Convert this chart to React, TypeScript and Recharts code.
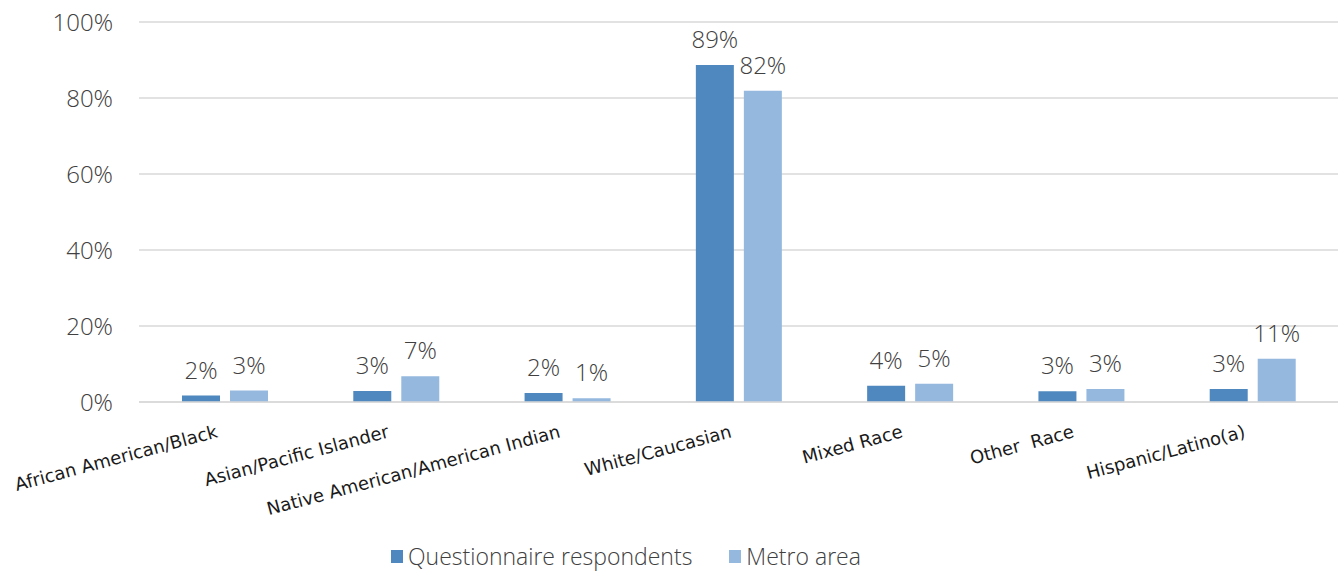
import React from 'react';
import { BarChart, Bar, XAxis, YAxis, CartesianGrid, LabelList, Legend } from 'recharts';

const categories = [
  'African American/Black',
  'Asian/Pacific Islander',
  'Native American/American Indian',
  'White/Caucasian',
  'Mixed Race',
  'Other  Race',
  'Hispanic/Latino(a)',
];
const respondents = [1.7, 2.9, 2.4, 88.7, 4.3, 2.8, 3.4];
const metro = [3.0, 6.8, 1.0, 81.9, 4.8, 3.4, 11.4];
const yTicks = [0, 20, 40, 60, 80, 100];
const seriesNames = ['Questionnaire respondents', 'Metro area'];
const colors = ['#4F88BE', '#95B8DF'];

const data = categories.map((c, i) => ({ name: c, q: respondents[i], m: metro[i] }));

const LIGHT = "'Open Sans', 'DejaVu Sans', sans-serif";

const XTick = (props: any) => {
  const { x, y, payload } = props;
  const tx = x - 6;
  const ty = y + 27;
  return (
    <text
      x={tx}
      y={ty}
      transform={`rotate(-15, ${tx}, ${ty})`}
      textAnchor="end"
      fontFamily="'DejaVu Sans', sans-serif"
      fontSize={18}
      fill="#1a1a1a"
      style={{ whiteSpace: 'pre' }}
    >
      {payload.value}
    </text>
  );
};

const LegendContent = () => (
  <div style={{ display: 'flex', alignItems: 'center', fontFamily: LIGHT, fontWeight: 300, fontSize: 23, color: '#404040', whiteSpace: 'nowrap' }}>
    {seriesNames.map((n, i) => (
      <div key={n} style={{ display: 'flex', alignItems: 'center', marginRight: i === 0 ? 37 : 0 }}>
        <span style={{ display: 'inline-block', width: 12, height: 13, background: colors[i], marginRight: 5 }} />
        <span>{n}</span>
      </div>
    ))}
  </div>
);

export default function App() {
  return (
    <div style={{ position: 'relative', width: 1343, height: 571 }}>
      <style>{`body{margin:0;background:#fff}`}</style>
      <BarChart
        width={1343}
        height={571}
        data={data}
        margin={{ top: 22, right: 5, bottom: 0, left: 0 }}
        barGap={10}
        barSize={38}
      >
        <CartesianGrid vertical={false} stroke="#d9d9d9" strokeWidth={1.5} />
        <XAxis
          dataKey="name"
          height={169}
          axisLine={{ stroke: '#d9d9d9', strokeWidth: 1.5 }}
          tickLine={false}
          interval={0}
          tick={<XTick />}
        />
        <YAxis
          width={139}
          domain={[0, 100]}
          ticks={yTicks}
          axisLine={false}
          tickLine={false}
          tickSize={0}
          tickMargin={26}
          tickFormatter={(v: number) => `${v}%`}
          tick={{ fontFamily: LIGHT, fontWeight: 300, fontSize: 24, fill: '#404040' }}
        />
        <Legend
          layout="horizontal"
          verticalAlign="middle"
          align="center"
          content={<LegendContent />}
          wrapperStyle={{ top: 540, left: 391, bottom: 'auto', right: 'auto', width: 'auto' }}
        />
        <Bar dataKey="q" name={seriesNames[0]} fill={colors[0]} isAnimationActive={false}>
          <LabelList
            dataKey="q"
            position="top"
            offset={17}
            formatter={(v: number) => `${Math.round(v)}%`}
            style={{ fontFamily: LIGHT, fontWeight: 300, fontSize: 24, fill: '#404040' }}
          />
        </Bar>
        <Bar dataKey="m" name={seriesNames[1]} fill={colors[1]} isAnimationActive={false}>
          <LabelList
            dataKey="m"
            position="top"
            offset={17}
            formatter={(v: number) => `${Math.round(v)}%`}
            style={{ fontFamily: LIGHT, fontWeight: 300, fontSize: 24, fill: '#404040' }}
          />
        </Bar>
      </BarChart>
    </div>
  );
}
